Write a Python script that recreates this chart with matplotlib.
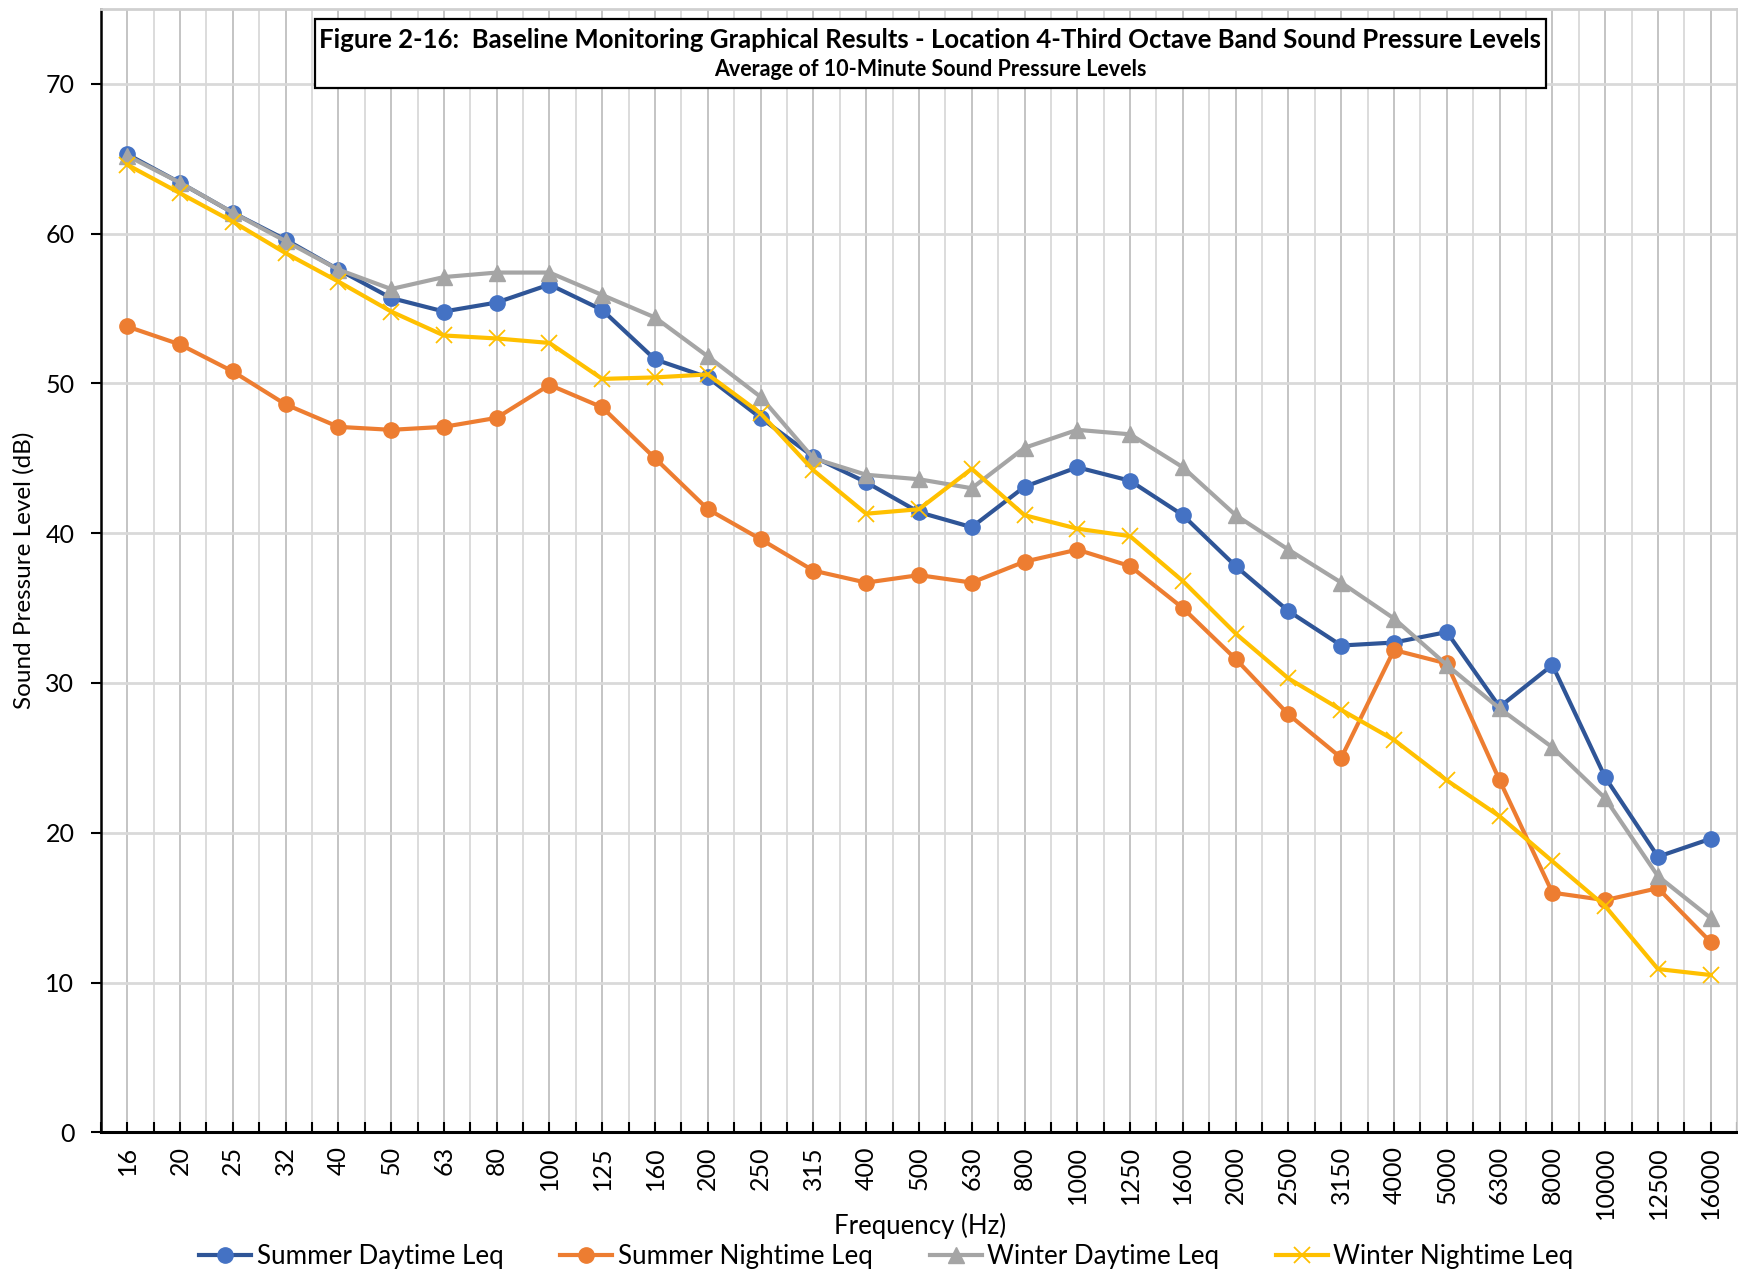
import numpy as np
from matplotlib import pyplot as plt
from matplotlib.lines import Line2D
from matplotlib.patches import Rectangle

plt.rcParams['font.family'] = ['Lato', 'DejaVu Sans']

freqs = ["16", "20", "25", "32", "40", "50", "63", "80", "100", "125", "160",
         "200", "250", "315", "400", "500", "630", "800", "1000", "1250", "1600",
         "2000", "2500", "3150", "4000", "5000", "6300", "8000", "10000", "12500", "16000"]

summer_day = [65.3, 63.4, 61.4, 59.6, 57.6, 55.7, 54.8, 55.4, 56.6, 54.9, 51.6,
              50.4, 47.7, 45.1, 43.4, 41.4, 40.4, 43.1, 44.4, 43.5, 41.2,
              37.8, 34.8, 32.5, 32.7, 33.4, 28.4, 31.2, 23.7, 18.4, 19.6]
summer_night = [53.8, 52.6, 50.8, 48.6, 47.1, 46.9, 47.1, 47.7, 49.9, 48.4, 45.0,
                41.6, 39.6, 37.5, 36.7, 37.2, 36.7, 38.1, 38.9, 37.8, 35.0,
                31.6, 27.9, 25.0, 32.2, 31.3, 23.5, 16.0, 15.5, 16.3, 12.7]
winter_day = [65.2, 63.4, 61.4, 59.5, 57.6, 56.3, 57.1, 57.4, 57.4, 55.9, 54.4,
              51.8, 49.1, 45.0, 43.9, 43.6, 43.0, 45.7, 46.9, 46.6, 44.4,
              41.2, 38.9, 36.7, 34.3, 31.2, 28.3, 25.7, 22.3, 17.1, 14.3]
winter_night = [64.6, 62.7, 60.8, 58.7, 56.8, 54.8, 53.2, 53.0, 52.7, 50.3, 50.4,
                50.6, 48.0, 44.2, 41.3, 41.6, 44.3, 41.2, 40.3, 39.8, 36.8,
                33.3, 30.3, 28.2, 26.2, 23.5, 21.1, 18.1, 15.1, 10.9, 10.5]

series_names = ["Summer Daytime Leq", "Summer Nightime Leq", "Winter Daytime Leq", "Winter Nightime Leq"]

title1 = "Figure 2-16:  Baseline Monitoring Graphical Results - Location 4-Third Octave Band Sound Pressure Levels"
title2 = "Average of 10-Minute Sound Pressure Levels"


def main():
    fig = plt.figure(figsize=(17.38, 12.78), dpi=100)
    ax = fig.add_axes([0.058, 0.114, 0.9415, 0.879])

    x = np.arange(len(freqs))

    # gridlines: darker at categories, lighter in between
    for xi in x:
        ax.axvline(xi, color="#BFBFBF", lw=1.3, zorder=0)
    for xi in x[:-1] + 0.5:
        ax.axvline(xi, color="#D9D9D9", lw=1.3, zorder=0)
    for yv in range(10, 80, 10):
        ax.axhline(yv, color="#D9D9D9", lw=2.0, zorder=0)

    lw = 3.0
    ms = 11
    ax.plot(x, summer_day, color="#2F5597", lw=lw, marker="o", ms=ms,
            mfc="#4472C4", mec="#4472C4", label=series_names[0], zorder=3)
    ax.plot(x, summer_night, color="#ED7D31", lw=lw, marker="o", ms=ms,
            mfc="#ED7D31", mec="#ED7D31", label=series_names[1], zorder=3)
    ax.plot(x, winter_day, color="#A5A5A5", lw=lw, marker="^", ms=ms,
            mfc="#A5A5A5", mec="#A5A5A5", label=series_names[2], zorder=3)
    ax.plot(x, winter_night, color="#FFC000", lw=lw, marker="x", ms=ms,
            mew=1.3, label=series_names[3], zorder=3)

    ax.set_xlim(-0.5, len(freqs) - 0.5)
    ax.set_ylim(0, 75)
    ax.set_yticks(range(0, 80, 10))
    ax.set_xticks(x)
    ax.set_xticklabels(freqs, rotation=90, fontsize=18)
    ax.set_xticks(np.arange(-0.5, len(freqs), 1.0), minor=True)
    ax.tick_params(axis="x", which="both", direction="in", length=7, width=1.5, pad=10)
    ax.tick_params(axis="y", direction="out", length=7, width=1.5, labelsize=18, pad=12)

    ax.spines["left"].set_color("black")
    ax.spines["left"].set_linewidth(1.8)
    ax.spines["bottom"].set_color("black")
    ax.spines["bottom"].set_linewidth(2.2)
    ax.spines["top"].set_color("#D0D0D0")
    ax.spines["top"].set_linewidth(2)
    ax.spines["right"].set_color("#D0D0D0")
    ax.spines["right"].set_linewidth(2)

    fig.text(0.5295, 0.041, "Frequency (Hz)", ha="center", va="center", fontsize=18.5)
    ax.set_ylabel("Sound Pressure Level (dB)", fontsize=17.5, labelpad=8)

    # title box with both lines inside
    ax.add_patch(Rectangle((0.131, 0.930), 0.752, 0.061, transform=ax.transAxes,
                           fc="white", ec="black", lw=1.6, zorder=5))
    ax.text(0.507, 0.972, title1, transform=ax.transAxes, ha="center", va="center",
            fontsize=18.5, fontweight="bold", zorder=6)
    ax.text(0.507, 0.946, title2, transform=ax.transAxes, ha="center", va="center",
            fontsize=15.5, fontweight="bold", zorder=6)

    handles = [
        Line2D([], [], color="#2F5597", lw=lw, marker="o", ms=ms, mfc="#4472C4", mec="#4472C4"),
        Line2D([], [], color="#ED7D31", lw=lw, marker="o", ms=ms),
        Line2D([], [], color="#A5A5A5", lw=lw, marker="^", ms=ms),
        Line2D([], [], color="#FFC000", lw=lw, marker="x", ms=ms, mew=1.3),
    ]
    fig.legend(handles, series_names, loc="center", bbox_to_anchor=(0.51, 0.017), ncol=4,
               frameon=False, fontsize=18.7, handlelength=2.0, handletextpad=0.2,
               columnspacing=2.2)

    plt.savefig("out.png", dpi=100)


if __name__ == '__main__':
    main()
